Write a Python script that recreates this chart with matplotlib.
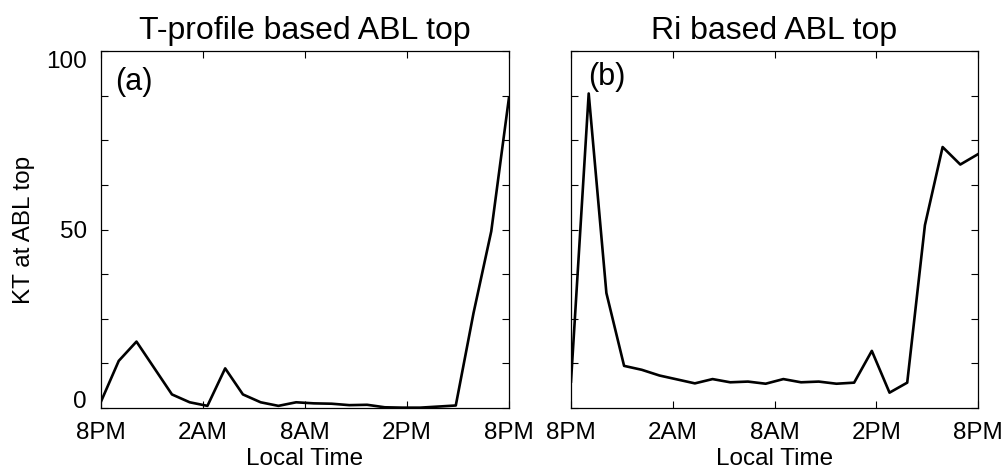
import numpy as np
import matplotlib.pyplot as plt

plt.rcParams['font.family'] = ['Liberation Sans', 'DejaVu Sans']

# hourly values, 8PM -> 8PM (24 samples)
kt_tprofile = [1.8, 13.2, 18.6, 11.2, 3.8, 1.6, 0.6, 11.1, 3.8, 1.6, 0.6, 1.6,
               1.3, 1.2, 0.8, 0.9, 0.2, 0.1, 0.1, 0.4, 0.7, 26.6, 49.5, 87.0]
kt_ri = [7.4, 88.1, 32.2, 11.8, 10.7, 9.1, 8.0, 6.9, 8.1, 7.2, 7.4, 6.8,
         8.1, 7.2, 7.4, 6.8, 7.1, 16.0, 4.3, 7.1, 51.2, 73.1, 68.2, 71.1]
time_labels = ['8PM', '2AM', '8AM', '2PM', '8PM']
titles = ['T-profile based ABL top', 'Ri based ABL top']
panel_tags = ['(a)', '(b)']

fs = 17.5
fig = plt.figure(figsize=(10.07, 4.70), dpi=100)
ax_a = fig.add_axes([101 / 1007, 1 - 408 / 470, 408 / 1007, 357 / 470])
ax_b = fig.add_axes([571 / 1007, 1 - 408 / 470, 407 / 1007, 357 / 470])

tag_pos = [(0.034, 0.913), (0.042, 0.927)]
for i, (ax, vals) in enumerate(zip([ax_a, ax_b], [kt_tprofile, kt_ri])):
    x = np.arange(len(vals))
    ax.plot(x, vals, color='black', lw=1.9)
    ax.set_xlim(0, len(vals) - 1)
    ax.set_ylim(0, 100)
    ax.set_xticks(np.linspace(0, len(vals) - 1, len(time_labels)))
    ax.set_xticklabels(time_labels, fontsize=fs)
    ax.set_yticks([0, 50, 100])
    ax.set_yticks([12.5, 25, 37.5, 62.5, 75, 87.5], minor=True)
    ax.tick_params(which='both', direction='in', top=True, right=True,
                   length=5, width=0.8, pad=10)
    ax.set_xlabel('Local Time', fontsize=fs, labelpad=3)
    ax.set_title(titles[i], fontsize=23, pad=9)
    ax.text(tag_pos[i][0], tag_pos[i][1], panel_tags[i], transform=ax.transAxes,
            fontsize=22, ha='left', va='center')
    for sp in ax.spines.values():
        sp.set_linewidth(0.9)

ax_a.set_yticklabels(['0', '50', '100'], fontsize=fs)
labs = ax_a.get_yticklabels()
labs[0].set_va('baseline')
labs[-1].set_va('top')
ax_a.set_ylabel('KT at ABL top', fontsize=fs, labelpad=8)
ax_b.set_yticklabels([])

fig.savefig('out.png', dpi=100)
